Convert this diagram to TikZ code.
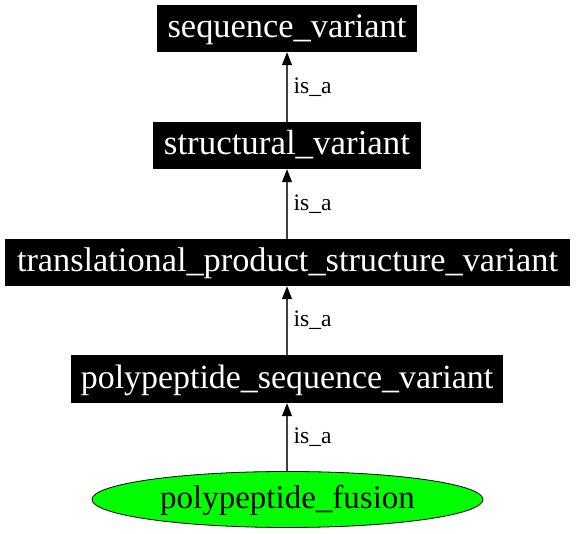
\documentclass[tikz,border=0pt]{standalone}
\usepackage{fontspec}
\setmainfont{Liberation Serif}
\usetikzlibrary{arrows.meta,shapes.geometric}
\begin{document}
\begin{tikzpicture}[x=1pt,y=1pt,
  termbox/.style={rectangle,fill=black,text=white,inner sep=0pt,text height=25pt,text depth=6pt},
  leafnode/.style={ellipse,draw=black,line width=0.8pt,fill={rgb,255:red,0;green,255;blue,0},inner sep=0pt,text height=25pt,text depth=6pt},
  isa/.style={draw=black!75,line width=1.2pt,-{Triangle[length=13pt,width=10pt,color=black]}},
  lbl/.style={anchor=west,inner sep=0pt,font=\fontsize{23.6}{26}\selectfont}]
\useasboundingbox (0,0) rectangle (576,534);
\node[termbox,minimum width=260,minimum height=47,font=\fontsize{34.4}{36}\selectfont] (sv) at (287,505.5) {sequence\_variant};
\node[termbox,minimum width=268,minimum height=47,font=\fontsize{34.9}{36}\selectfont] (st) at (287,388.5) {structural\_variant};
\node[termbox,minimum width=565,minimum height=47,font=\fontsize{34.3}{36}\selectfont] (tp) at (287.5,271.5) {translational\_product\_structure\_variant};
\node[termbox,minimum width=432,minimum height=48,font=\fontsize{33.9}{36}\selectfont] (ps) at (287,155) {polypeptide\_sequence\_variant};
\node[leafnode,minimum width=391,minimum height=56,font=\fontsize{33}{36}\selectfont] (pf) at (287.5,34.5) {polypeptide\_fusion};
\draw[isa] (st.north -| sv.south) -- node[lbl,xshift=6pt] {is\_a} (sv.south);
\draw[isa] (tp.north -| st.south) -- node[lbl,xshift=6pt] {is\_a} (st.south);
\draw[isa] (ps.north -| st.south) -- node[lbl,xshift=6pt] {is\_a} (tp.south -| st.south);
\draw[isa] (pf.north -| st.south) -- node[lbl,xshift=6pt] {is\_a} (ps.south -| st.south);
\end{tikzpicture}
\end{document}
